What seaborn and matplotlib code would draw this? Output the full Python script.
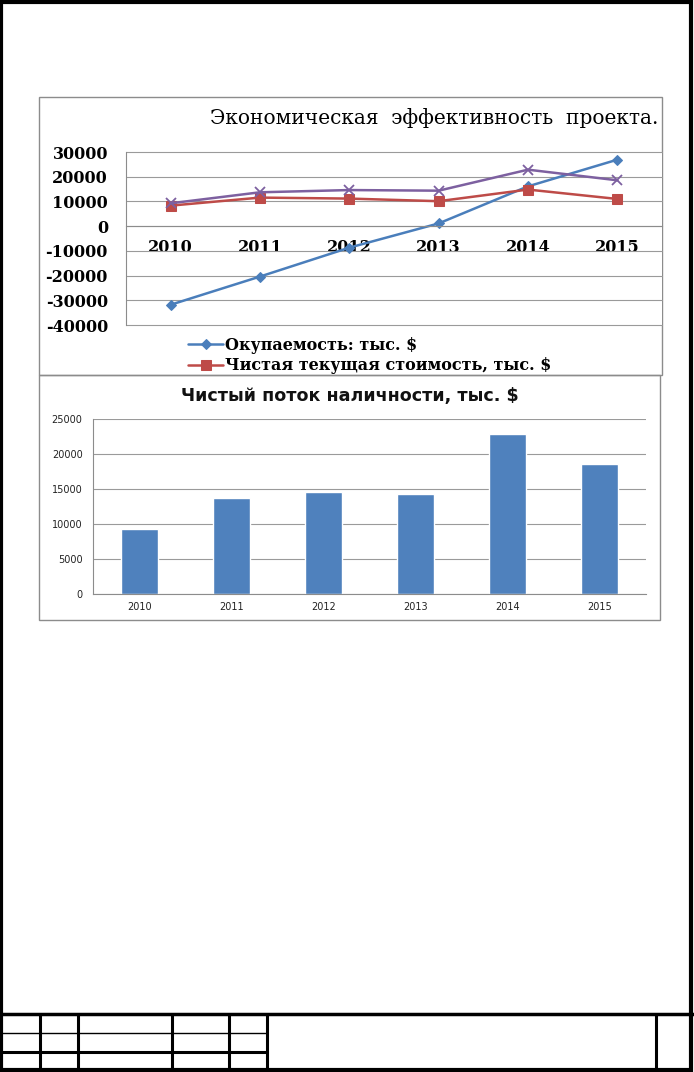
import matplotlib
matplotlib.use("Agg")
import matplotlib.pyplot as plt
from matplotlib.patches import Rectangle
import seaborn as sns
import numpy as np
import pandas as pd

# data
years = [2010, 2011, 2012, 2013, 2014, 2015]
payback = [-31800, -20400, -8700, 1100, 16100, 26900]      # Окупаемость
npv = [8300, 11550, 11150, 10100, 14800, 11000]             # Чистая текущая стоимость
cash_flow = [9250, 13700, 14600, 14350, 22850, 18550]       # Чистый поток наличности

top_title = "Экономическая  эффективность  проекта."
bottom_title = "Чистый поток наличности, тыс. $"
labels = ["Окупаемость: тыс. $", "Чистая текущая стоимость, тыс. $",
          "Чистый поток наличности, тыс. $"]

W, H = 694, 1072
sns.set_style("white")
plt.rcParams['font.family'] = ['DejaVu Sans']
plt.rcParams['axes.unicode_minus'] = False

fig = plt.figure(figsize=(W / 100, H / 100), dpi=100)


def px_axes(l, t, r, b, **kw):
    return fig.add_axes([l / W, 1 - b / H, (r - l) / W, (b - t) / H], **kw)


# page frame and title block, drawn in pixel coordinates
page = px_axes(0, 0, W, H, zorder=0)
page.set_xlim(0, W)
page.set_ylim(H, 0)
page.axis("off")
page.add_patch(Rectangle((1.5, 1.5), W - 4, H - 3.5, fill=False, lw=3, ec="black"))
page.add_patch(Rectangle((39.5, 97), 622.5, 278, fill=False, lw=1, ec="#8c8c8c"))
page.add_patch(Rectangle((39.5, 375), 620.5, 245, fill=False, lw=1, ec="#8c8c8c"))
page.plot([0, W], [1014, 1014], color="black", lw=2.5)
for x in [40, 78, 172, 229, 267, 656]:
    page.plot([x, x], [1014, 1070], color="black", lw=2.2)
page.plot([0, 267], [1033, 1033], color="black", lw=1)
page.plot([0, 267], [1052, 1052], color="black", lw=2.2)

# ---- top chart ----
serif_b = dict(family="DejaVu Serif", weight="bold", size=11.5)
ax1 = px_axes(126, 152, 662, 325)
colors = ["#4A7EBB", "#BE4B48", "#7D60A0"]
sns.lineplot(x=years, y=payback, ax=ax1, color=colors[0], marker="D",
             markersize=5, markeredgecolor=colors[0], lw=1.8, label=labels[0])
sns.lineplot(x=years, y=npv, ax=ax1, color=colors[1], marker="s",
             markersize=7, markeredgecolor=colors[1], lw=1.8, label=labels[1])
sns.lineplot(x=years, y=cash_flow, ax=ax1, color=colors[2], marker="x",
             markersize=7, markeredgewidth=1.3, markeredgecolor=colors[2],
             lw=1.8, label=labels[2])
for s in ["top", "right"]:
    ax1.spines[s].set_visible(False)
ax1.spines["bottom"].set_position(("data", 0))
ax1.spines["bottom"].set_color("#8c8c8c")
ax1.spines["left"].set_color("#8c8c8c")
ax1.set_xlim(2009.5, 2015.5)
ax1.set_ylim(-40000, 30000)
ax1.set_yticks(np.arange(-40000, 30001, 10000))
ax1.set_xticks(years)
ax1.set_xticks(np.arange(2009.5, 2015.6, 1), minor=True)
ax1.tick_params(axis="x", which="major", length=0, pad=9, labelcolor="black")
ax1.tick_params(axis="x", which="minor", length=4, color="#8c8c8c", direction="out")
ax1.tick_params(axis="y", length=4, color="#8c8c8c", pad=9, labelcolor="black")
for t in ax1.get_xticklabels() + ax1.get_yticklabels():
    t.set_fontproperties(serif_b)
ax1.grid(axis="y", color="#9a9a9a", lw=0.8)
for g in ax1.get_ygridlines():
    g.set_clip_on(False)
ax1.set_axisbelow(True)
ax1.set_xlabel("")
ax1.set_ylabel("")
handles, labs = ax1.get_legend_handles_labels()
ax1.legend_.remove()
leg = fig.legend(handles[:2], labs[:2], loc="upper left",
                 bbox_to_anchor=(188 / W, 1 - 337 / H), frameon=False,
                 prop=dict(family="DejaVu Serif", weight="bold", size=11.5),
                 handlelength=2.2, handletextpad=0.1, labelspacing=0.2,
                 borderpad=0, borderaxespad=0)
for t in leg.get_texts():
    t.set_color("black")
fig.text(658 / W, 1 - 118 / H, top_title, ha="right", va="center",
         family="DejaVu Serif", size=14.5, color="black")

# ---- bottom chart ----
ax2 = px_axes(93, 419, 646, 594)
df = pd.DataFrame({"year": [str(y) for y in years], "cash": cash_flow})
sns.barplot(data=df, x="year", y="cash", ax=ax2, color="#4F81BD",
            width=0.4, saturation=1)
ax2.set_xlim(-0.5, 5.5)
ax2.set_ylim(0, 25000)
ax2.set_yticks(np.arange(0, 25001, 5000))
ax2.set_xticks(np.arange(-0.5, 5.6, 1), minor=True)
ax2.tick_params(axis="x", which="major", length=0, pad=6, labelsize=7, labelcolor="#222222")
ax2.tick_params(axis="x", which="minor", length=4, color="#8c8c8c")
ax2.tick_params(axis="y", length=4, color="#8c8c8c", labelsize=7, labelcolor="#222222")
ax2.grid(axis="y", color="#9a9a9a", lw=0.8)
ax2.set_axisbelow(True)
for s in ["top", "right"]:
    ax2.spines[s].set_visible(False)
ax2.spines["bottom"].set_color("#8c8c8c")
ax2.spines["left"].set_color("#8c8c8c")
ax2.set_xlabel("")
ax2.set_ylabel("")
fig.text(350 / W, 1 - 396 / H, bottom_title, ha="center", va="center",
         family="DejaVu Sans", weight="bold", size=12.6, color="#111111")

fig.savefig("out.png", dpi=100)
